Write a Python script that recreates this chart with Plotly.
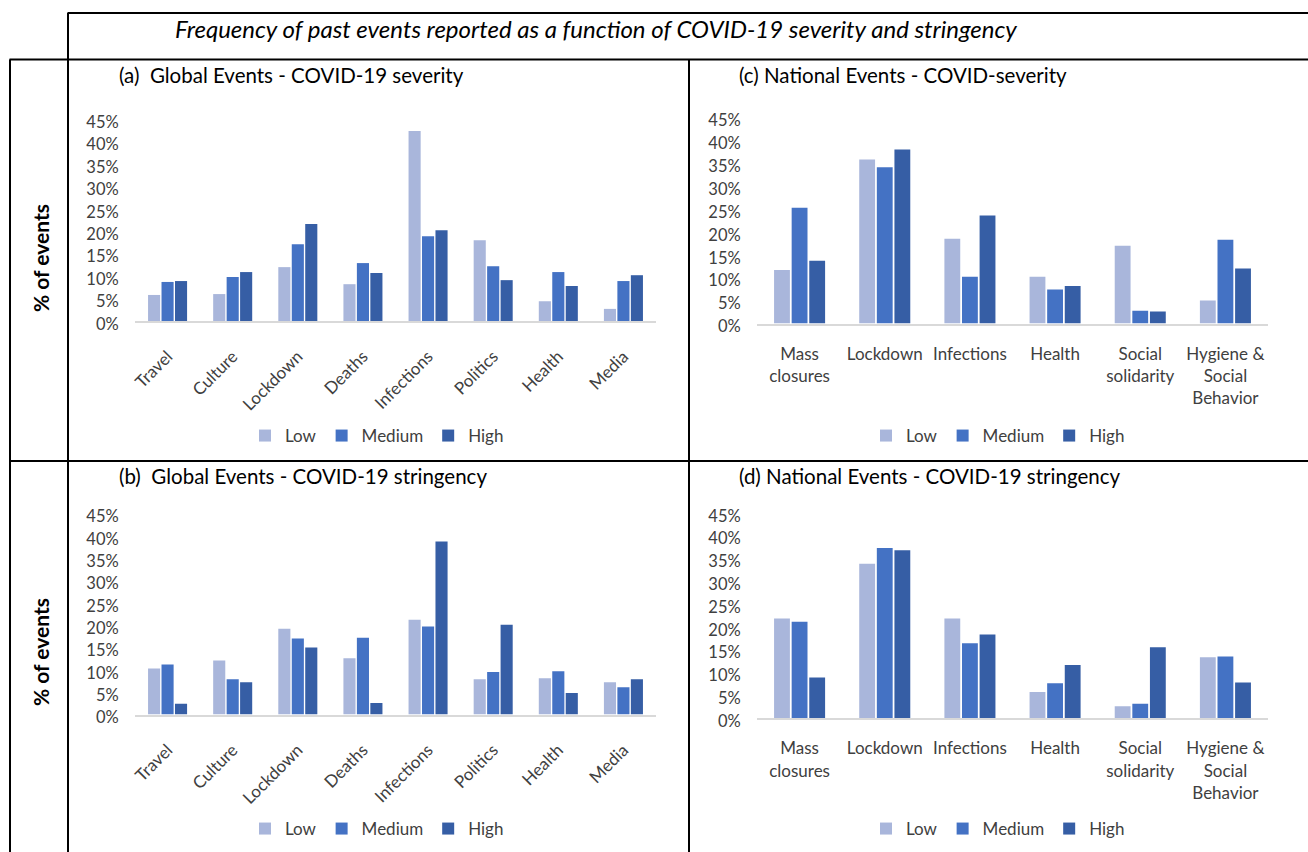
import plotly.graph_objects as go

# ---------------- data ----------------
global_cats = ["Travel", "Culture", "Lockdown", "Deaths", "Infections", "Politics", "Health", "Media"]
national_cats = ["Mass<br>closures", "Lockdown", "Infections", "Health",
                 "Social<br>solidarity", "Hygiene &<br>Social<br>Behavior"]
levels = ["Low", "Medium", "High"]

# (a) Global events - COVID-19 severity (%)
a_low = [5.8, 6.0, 12.0, 8.2, 42.3, 18.0, 4.4, 2.7]
a_med = [8.7, 9.8, 17.1, 12.9, 18.9, 12.2, 10.9, 8.9]
a_high = [8.9, 10.9, 21.6, 10.7, 20.2, 9.1, 7.8, 10.2]
# (b) Global events - COVID-19 stringency (%)
b_low = [10.3, 12.1, 19.2, 12.6, 21.2, 7.9, 8.1, 7.2]
b_med = [11.2, 7.9, 17.0, 17.2, 19.7, 9.5, 9.7, 6.1]
b_high = [2.4, 7.2, 15.0, 2.6, 38.7, 20.1, 4.8, 7.9]
# (c) National events - COVID severity (%)
c_low = [11.7, 35.8, 18.5, 10.2, 17.0, 5.0]
c_med = [25.3, 34.1, 10.2, 7.4, 2.8, 18.3]
c_high = [13.7, 38.0, 23.6, 8.2, 2.6, 12.0]
# (d) National events - COVID-19 stringency (%)
d_low = [21.8, 33.8, 21.8, 5.7, 2.6, 13.3]
d_med = [21.1, 37.3, 16.4, 7.6, 3.1, 13.5]
d_high = [8.9, 36.8, 18.3, 11.6, 15.5, 7.8]

main_title = "Frequency of past events reported as a function of COVID-19 severity and stringency"
panel_titles = ["(a)\u00a0 Global Events - COVID-19 severity",
                "(c) National Events - COVID-severity",
                "(b)\u00a0 Global Events - COVID-19 stringency",
                "(d) National Events - COVID-19 stringency"]
ylabel = "% of events"

# ---------------- style ----------------
W, H = 1308, 852
colors = ["#A9B6DB", "#4472C4", "#365EA5"]
FONT = "Lato"
TXT = "#404040"


def px(x):
    return x / W


def py(y):
    return 1 - y / H


panels = [
    # key suffix, cats, series, x-domain px, y px (0%, 45%), legend centre, title pos, tickangle
    ("", global_cats, [a_low, a_med, a_high], (135, 656), (321, 119), (377, 436), (117, 75), -45, "legend"),
    ("2", national_cats, [c_low, c_med, c_high], (757, 1268), (323.5, 117.4), (998, 436), (737, 75), 0, "legend2"),
    ("3", global_cats, [b_low, b_med, b_high], (135, 656), (714.5, 513.4), (377, 829), (117, 476), -45, "legend3"),
    ("4", national_cats, [d_low, d_med, d_high], (757, 1268), (718, 512.8), (998, 829), (737, 476), 0, "legend4"),
]

fig = go.Figure()
layout = dict(
    width=W, height=H, autosize=False,
    margin=dict(l=0, r=0, t=0, b=0, pad=0, autoexpand=False),
    paper_bgcolor="white", plot_bgcolor="white",
    barmode="group", bargap=0.38, bargroupgap=0.1,
    font=dict(family=FONT, color=TXT, size=17),
)

annotations = []
for i, (suf, cats, series, xd, yd, leg, tpos, tang, legname) in enumerate(panels):
    for lvl, vals, col in zip(levels, series, colors):
        fig.add_trace(go.Bar(
            x=cats, y=[v / 100 for v in vals], name=lvl,
            marker=dict(color=col, line=dict(width=0)),
            xaxis="x" + suf, yaxis="y" + suf, legend=legname,
            hoverinfo="skip",
        ))
    layout["xaxis" + suf] = dict(
        domain=[px(xd[0]), px(xd[1])], anchor="y" + suf,
        showline=True, linecolor="#D9D9D9", linewidth=2,
        showgrid=False, zeroline=False, automargin=False,
        ticks="outside", ticklen=17 if tang else 14, tickcolor="rgba(0,0,0,0)",
        tickangle=tang, tickfont=dict(family=FONT, size=17, color=TXT),
        fixedrange=True,
    )
    layout["yaxis" + suf] = dict(
        domain=[py(yd[0]), py(yd[1])], anchor="x" + suf,
        range=[0, 0.45], dtick=0.05, tickformat=".0%",
        showline=False, showgrid=False, zeroline=False, automargin=False,
        ticks="outside", ticklen=12, tickcolor="rgba(0,0,0,0)",
        ticklabelshift=3,
        tickfont=dict(family=FONT, size=16.5, color=TXT),
        fixedrange=True,
    )
    layout[legname] = dict(
        orientation="h", x=px(leg[0]), y=py(leg[1]),
        xanchor="center", yanchor="middle",
        font=dict(family=FONT, size=17, color=TXT),
        bgcolor="rgba(0,0,0,0)", itemwidth=30, traceorder="normal",
    )
    annotations.append(dict(
        text=panel_titles[i], x=px(tpos[0]), y=py(tpos[1]),
        xref="paper", yref="paper", xanchor="left", yanchor="middle",
        showarrow=False, font=dict(family=FONT, size=20.5, color="#000000"),
    ))

annotations.append(dict(
    text="<i>" + main_title + "</i>", x=px(173), y=py(29),
    xref="paper", yref="paper", xanchor="left", yanchor="middle",
    showarrow=False, font=dict(family=FONT, size=24, color="#000000"),
))
for yc in (258, 652):
    annotations.append(dict(
        text="<b>" + ylabel + "</b>", x=px(40), y=py(yc),
        xref="paper", yref="paper", xanchor="center", yanchor="middle",
        textangle=-90, showarrow=False,
        font=dict(family=FONT, size=21, color="#000000"),
    ))
layout["annotations"] = annotations

# table-like frame lines
line = dict(color="black", width=2)
frame = [
    (68, 12.5, 68, H),
    (68, 13, W, 13),
    (9.5, 59.5, W, 59.5),
    (10, 59.5, 10, H),
    (689, 59.5, 689, H),
    (10, 461, W, 461),
]
layout["shapes"] = [dict(type="line", xref="paper", yref="paper",
                         x0=px(x0), y0=py(y0), x1=px(x1), y1=py(y1), line=line)
                    for x0, y0, x1, y1 in frame]

fig.update_layout(**layout)
fig.write_html("out.html", config={"displayModeBar": False},
               post_script="document.body.style.margin='0';")
